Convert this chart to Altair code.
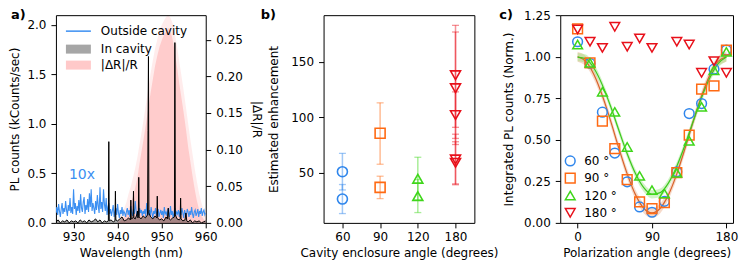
import altair as alt
import numpy as np
import pandas as pd

FONT = "DejaVu Sans"
BLUE = "#2f86ec"
ORANGE = "#ff6a13"
GREEN = "#3fd61a"
RED = "#e8101a"
LINE_BLUE = "#3b8ff2"

# ---------------- panel a data ----------------
outside_start, outside_step = 926.0, 0.2
outside_10x = [
    0.10, 0.16, 0.08, 0.19, 0.12, 0.06, 0.14, 0.20, 0.09, 0.15, 0.11, 0.22, 0.13, 0.07, 0.18, 0.12, 0.25, 0.10, 0.16, 0.09,
    0.34, 0.14, 0.20, 0.08, 0.17, 0.12, 0.23, 0.10, 0.29, 0.15, 0.11, 0.21, 0.26, 0.09, 0.18, 0.13, 0.24, 0.11, 0.30, 0.16,
    0.34, 0.12, 0.20, 0.15, 0.09, 0.22, 0.13, 0.28, 0.17, 0.10, 0.36, 0.14, 0.21, 0.11, 0.34, 0.19, 0.12, 0.25, 0.08, 0.16,
    0.20, 0.09, 0.14, 0.07, 0.12, 0.18, 0.06, 0.11, 0.15, 0.08, 0.19, 0.10, 0.05, 0.13, 0.09, 0.16, 0.07, 0.12, 0.10, 0.06,
    0.11, 0.15, 0.08, 0.13, 0.06, 0.17, 0.10, 0.07, 0.14, 0.09, 0.22, 0.12, 0.06, 0.11, 0.08, 0.15, 0.10, 0.13, 0.07, 0.12,
    0.09, 0.14, 0.06, 0.20, 0.11, 0.08, 0.13, 0.07, 0.16, 0.10, 0.05, 0.12, 0.09, 0.15, 0.07, 0.11, 0.14, 0.06, 0.10, 0.13,
    0.08, 0.12, 0.05, 0.16, 0.09, 0.11, 0.07, 0.14, 0.10, 0.06, 0.17, 0.08, 0.12, 0.05, 0.10, 0.15, 0.07, 0.11, 0.09, 0.13,
    0.06, 0.12, 0.08, 0.15, 0.10, 0.05, 0.13, 0.09, 0.07, 0.14, 0.11, 0.06, 0.12, 0.08, 0.16, 0.09, 0.05, 0.11, 0.13, 0.07,
    0.10, 0.14, 0.06, 0.12, 0.09, 0.15, 0.07, 0.11, 0.13, 0.08, 0.10,
]
in_wl = [
    926.0, 926.5, 927.0, 927.5, 928.0, 928.5, 929.0, 929.5, 930.0, 930.5, 931.0, 931.5, 932.0, 932.5,
    933.0, 933.5, 934.0, 934.5, 935.0, 935.5, 936.0, 936.5, 937.0, 937.5, 937.9, 938.0, 938.1, 938.5,
    939.0, 939.4, 939.5, 939.6, 940.0, 940.5, 941.0, 941.5, 942.0, 942.5, 942.9, 943.0, 943.1, 943.5,
    943.6, 943.7, 944.0, 944.4, 944.5, 944.6, 944.7, 944.8, 944.9, 945.3, 945.8, 946.3, 946.8, 946.9,
    947.0, 947.1, 947.5, 948.0, 948.5, 948.9, 949.0, 949.1, 949.5, 950.0, 950.5, 951.0, 951.3, 951.5,
    951.7, 952.0, 952.5, 952.9, 953.0, 953.1, 953.5, 954.0, 954.2, 954.3, 954.4, 954.8, 955.3, 955.5,
    955.7, 956.0, 956.5, 957.0, 957.5, 958.0, 958.5, 959.0, 959.5, 960.0,
]
in_counts = [
    0.01, 0.03, 0.00, 0.02, 0.01, 0.03, 0.00, 0.02, 0.01, 0.02, 0.00, 0.03, 0.01, 0.02,
    0.00, 0.03, 0.01, 0.02, 0.04, 0.01, 0.03, 0.00, 0.02, 0.01, 0.02, 0.82, 0.02, 0.03,
    0.01, 0.02, 0.32, 0.03, 0.02, 0.04, 0.06, 0.02, 0.03, 0.05, 0.03, 0.23, 0.04, 0.05,
    0.32, 0.05, 0.04, 0.09, 0.12, 0.05, 0.06, 0.46, 0.06, 0.04, 0.07, 0.05, 0.08, 0.93,
    1.68, 0.10, 0.06, 0.04, 0.07, 0.05, 0.27, 0.05, 0.03, 0.04, 0.02, 0.06, 0.04, 0.15,
    0.04, 0.03, 0.05, 0.06, 1.82, 0.08, 0.04, 0.03, 0.04, 0.25, 0.04, 0.02, 0.03, 0.10,
    0.02, 0.01, 0.03, 0.00, 0.02, 0.01, 0.02, 0.00, 0.01, 0.02,
]
dr_start, dr_step = 940.0, 0.5
dr_core = [
    0.000, 0.002, 0.005, 0.008, 0.012, 0.018, 0.027, 0.036, 0.048, 0.062, 0.082, 0.100, 0.118, 0.138,
    0.158, 0.178, 0.196, 0.214, 0.228, 0.240, 0.249, 0.256, 0.262, 0.266, 0.262, 0.250, 0.232, 0.212,
    0.190, 0.170, 0.150, 0.128, 0.104, 0.084, 0.064, 0.046, 0.030, 0.018, 0.010, 0.005, 0.002,
]
dr_fringe = [
    0.004, 0.008, 0.014, 0.020, 0.028, 0.040, 0.050, 0.062, 0.075, 0.090, 0.108, 0.126, 0.145, 0.165,
    0.185, 0.205, 0.222, 0.238, 0.250, 0.262, 0.270, 0.276, 0.281, 0.283, 0.280, 0.272, 0.258, 0.240,
    0.220, 0.200, 0.180, 0.158, 0.136, 0.114, 0.094, 0.074, 0.056, 0.040, 0.028, 0.018, 0.012,
]
legend_a = ["Outside cavity", "In cavity", "|ΔR|/R"]

# ---------------- panel b data ----------------
ANGLES = ["60", "90", "120", "180"]
b_angle = ["60", "60", "90", "90", "120", "120", "180", "180", "180", "180", "180"]
b_value = [51.0, 26.3, 85.6, 36.8, 44.6, 29.0, 138.0, 126.3, 102.0, 62.0, 59.0]
b_low = [34.5, 13.2, 57.7, 26.7, 25.2, 14.1, 91.0, 75.5, 81.0, 39.2, 40.0]
b_high = [67.5, 39.4, 113.1, 46.9, 64.0, 43.9, 183.0, 177.0, 123.0, 84.8, 78.0]

# ---------------- panel c data ----------------
c_angles = [0, 15, 30, 45, 60, 75, 90, 105, 120, 135, 150, 165, 180]
c_60 = [1.09, 0.96, 0.666, 0.42, 0.247, 0.096, 0.064, 0.13, 0.307, 0.658, 0.718, 0.925, 1.04]
c_90 = [1.168, 0.963, 0.612, 0.447, 0.26, 0.126, 0.086, 0.122, 0.303, 0.528, 0.805, 0.825, 1.039]
c_120 = [1.073, 0.963, 0.789, 0.668, 0.457, 0.283, 0.197, 0.177, 0.301, 0.494, 0.698, 0.919, 1.029]
c_180_angles = [0, 15, 30, 45, 60, 75, 90, 120, 135, 150, 165, 180]
c_180 = [1.164, 1.09, 1.053, 1.18, 1.06, 1.11, 1.053, 1.09, 1.073, 0.903, 0.973, 0.903]

fit_angles = [0, 10, 20, 30, 40, 50, 60, 70, 80, 90, 100, 110, 120, 130, 140, 150, 160, 170, 180]
fit_orange = [1.00, 0.972, 0.89, 0.765, 0.612, 0.448, 0.295, 0.17, 0.088, 0.06,
              0.088, 0.17, 0.295, 0.448, 0.612, 0.765, 0.89, 0.972, 1.00]
fit_green = [0.998, 0.988, 0.929, 0.829, 0.70, 0.556, 0.416, 0.297, 0.212, 0.172,
             0.182, 0.241, 0.341, 0.47, 0.614, 0.754, 0.873, 0.958, 0.998]
band_orange_half = 0.03
band_green_half = 0.025

# ---------------- frames ----------------
df_out = pd.DataFrame({"wl": np.round(outside_start + outside_step * np.arange(len(outside_10x)), 2),
                       "pl": outside_10x})
df_in = pd.DataFrame({"wl": in_wl, "pl": in_counts})
df_dr = pd.DataFrame({"wl": np.round(dr_start + dr_step * np.arange(len(dr_core)), 2),
                      "core": dr_core, "fringe": dr_fringe})

H = 208
WA, WB, WC = 150, 151, 173

xa = alt.X("wl:Q", scale=alt.Scale(domain=[926, 960], nice=False, zero=False),
           axis=alt.Axis(values=[930, 940, 950, 960], title="Wavelength (nm)"))
y_left = alt.Scale(domain=[0, 2.097], nice=False)
ax_left = alt.Axis(orient="left", values=[0, 0.5, 1.0, 1.5, 2.0], format=".1f",
                   title="PL counts (kCounts/sec)", titlePadding=5)
y_right = alt.Scale(domain=[0, 0.2835], nice=False)
ax_right = alt.Axis(orient="right", values=[0, 0.05, 0.10, 0.15, 0.20, 0.25], format=".2f",
                    title="|ΔR|/R", titleAngle=90, titlePadding=7)

pink_fringe = alt.Chart(df_dr).mark_area(color="#ff3030", opacity=0.09, clip=True).encode(
    x=xa, y=alt.Y("fringe:Q", scale=y_right, axis=ax_right))
pink_core = alt.Chart(df_dr).mark_area(color="#ff3030", opacity=0.17, clip=True).encode(
    x=xa, y=alt.Y("core:Q", scale=y_right, axis=ax_right))
right_layer = alt.layer(pink_fringe, pink_core)

blue_line = alt.Chart(df_out).mark_line(color=LINE_BLUE, strokeWidth=1.1, clip=True).encode(
    x=xa, y=alt.Y("pl:Q", scale=y_left, axis=ax_left))
black_area = alt.Chart(df_in).mark_area(color="black", opacity=0.35, clip=True).encode(
    x=xa, y=alt.Y("pl:Q", scale=y_left, axis=ax_left))
black_line = alt.Chart(df_in).mark_line(color="black", strokeWidth=1, clip=True).encode(
    x=xa, y=alt.Y("pl:Q", scale=y_left, axis=ax_left))


def txt(s, x, y, size=12, color="black", weight="normal", baseline="middle"):
    return alt.Chart(pd.DataFrame({"t": [s]})).mark_text(
        font=FONT, fontSize=size, color=color, fontWeight=weight, align="left", baseline=baseline
    ).encode(text="t:N", x=alt.value(x), y=alt.value(y))


one = pd.DataFrame({"k": [0]})
leg_line = alt.Chart(one).mark_rule(color=LINE_BLUE, strokeWidth=1.5).encode(
    x=alt.value(10), x2=alt.value(35), y=alt.value(16))
leg_gray = alt.Chart(one).mark_rect(color="black", opacity=0.35).encode(
    x=alt.value(10), x2=alt.value(35), y=alt.value(29.5), y2=alt.value(38.5))
leg_pink = alt.Chart(one).mark_rect(color="#ffc9c9").encode(
    x=alt.value(10), x2=alt.value(35), y=alt.value(45.5), y2=alt.value(54.5))

left_layer = alt.layer(
    blue_line, black_area, black_line,
    leg_line, leg_gray, leg_pink,
    txt(legend_a[0], 45, 16), txt(legend_a[1], 45, 34), txt(legend_a[2], 45, 50),
    txt("10x", 13, 160, size=14, color=LINE_BLUE),
    txt("a)", -45, -6, size=13, weight="bold", baseline="top"),
)
panel_a = alt.layer(right_layer, left_layer).resolve_scale(y="independent").properties(width=WA, height=H)

# ---------------- panel b ----------------
df_b = pd.DataFrame({"angle": b_angle, "value": b_value, "low": b_low, "high": b_high})
xb = alt.X("angle:O", sort=ANGLES, scale=alt.Scale(type="point", domain=ANGLES, padding=0.5),
           axis=alt.Axis(labelAngle=0, title="Cavity enclosure angle (degrees)"))
yb_scale = alt.Scale(domain=[4.8, 192.2], nice=False, zero=False)
yb_axis = alt.Axis(values=[50, 100, 150], title="Estimated enhancement", titlePadding=10)
col_b = alt.Color("angle:N", scale=alt.Scale(domain=ANGLES, range=[BLUE, ORANGE, GREEN, RED]), legend=None)
shape_b = alt.Shape("angle:N", scale=alt.Scale(domain=ANGLES,
                    range=["circle", "square", "triangle-up", "triangle-down"]), legend=None)

err_b = alt.Chart(df_b).mark_rule(strokeWidth=1.5, opacity=0.45).encode(
    x=xb, y=alt.Y("low:Q", scale=yb_scale, axis=yb_axis), y2="high:Q", color=col_b)
cap_lo = alt.Chart(df_b).mark_tick(size=7, thickness=1.3, opacity=0.45).encode(
    x=xb, y=alt.Y("low:Q", scale=yb_scale, axis=yb_axis), color=col_b)
cap_hi = alt.Chart(df_b).mark_tick(size=7, thickness=1.3, opacity=0.45).encode(
    x=xb, y=alt.Y("high:Q", scale=yb_scale, axis=yb_axis), color=col_b)
pts_b = alt.Chart(df_b).mark_point(filled=False, size=100, strokeWidth=1.6, opacity=1).encode(
    x=xb, y=alt.Y("value:Q", scale=yb_scale, axis=yb_axis), color=col_b, shape=shape_b)
panel_b = alt.layer(err_b, cap_lo, cap_hi, pts_b,
                    txt("b)", -63, -6, size=13, weight="bold", baseline="top")).properties(width=WB, height=H)

# ---------------- panel c ----------------
rows = []
for name, angs, vals in [("60", c_angles, c_60), ("90", c_angles, c_90),
                         ("120", c_angles, c_120), ("180", c_180_angles, c_180)]:
    for a, v in zip(angs, vals):
        rows.append({"series": name, "angle": a, "value": v})
df_c = pd.DataFrame(rows)
df_fit = pd.DataFrame({"angle": fit_angles, "orange": fit_orange, "green": fit_green})
df_fit["o_lo"] = df_fit["orange"] - band_orange_half
df_fit["o_hi"] = df_fit["orange"] + band_orange_half
df_fit["g_lo"] = df_fit["green"] - band_green_half
df_fit["g_hi"] = df_fit["green"] + band_green_half

xc = alt.X("angle:Q", scale=alt.Scale(domain=[-21, 188], nice=False, zero=False),
           axis=alt.Axis(values=[0, 90, 180], title="Polarization angle (degrees)"))
yc_scale = alt.Scale(domain=[0, 1.25], nice=False)
yc_axis = alt.Axis(values=[0, 0.25, 0.5, 0.75, 1.0, 1.25], format=".2f",
                   title="Integrated PL counts (Norm.)", titlePadding=8)

leg_c = alt.Legend(title=None, orient="none", legendX=4, legendY=140, padding=0,
                   symbolSize=95, symbolStrokeWidth=1.5, labelFont=FONT, labelFontSize=12,
                   labelColor="black", rowPadding=1.3, labelOffset=8,
                   labelExpr="datum.label + ' °'")
col_c = alt.Color("series:N", sort=ANGLES, scale=alt.Scale(domain=ANGLES, range=[BLUE, ORANGE, GREEN, RED]),
                  legend=leg_c)
shape_c = alt.Shape("series:N", sort=ANGLES, scale=alt.Scale(domain=ANGLES,
                    range=["circle", "square", "triangle-up", "triangle-down"]), legend=leg_c)

band_o = alt.Chart(df_fit).mark_area(color="#e8a27a", opacity=0.4, interpolate="monotone").encode(
    x=xc, y=alt.Y("o_lo:Q", scale=yc_scale, axis=yc_axis), y2="o_hi:Q")
band_g = alt.Chart(df_fit).mark_area(color="#8fe070", opacity=0.4, interpolate="monotone").encode(
    x=xc, y=alt.Y("g_lo:Q", scale=yc_scale, axis=yc_axis), y2="g_hi:Q")
line_o = alt.Chart(df_fit).mark_line(color="#d8632a", strokeWidth=1.2, interpolate="monotone").encode(
    x=xc, y=alt.Y("orange:Q", scale=yc_scale, axis=yc_axis))
line_g = alt.Chart(df_fit).mark_line(color="#3cc81e", strokeWidth=1.2, interpolate="monotone").encode(
    x=xc, y=alt.Y("green:Q", scale=yc_scale, axis=yc_axis))
pts_c = alt.Chart(df_c).mark_point(filled=False, size=95, strokeWidth=1.5, opacity=1).encode(
    x=xc, y=alt.Y("value:Q", scale=yc_scale, axis=yc_axis), color=col_c, shape=shape_c)
panel_c = alt.layer(band_o, band_g, line_o, line_g, pts_c,
                    txt("c)", -61, -6, size=13, weight="bold", baseline="top")).properties(width=WC, height=H)


def spacer(w):
    return alt.Chart(one).mark_point(opacity=0).properties(
        width=w, height=H, view=alt.ViewBackground(stroke="transparent"))


chart = alt.hconcat(panel_a, spacer(118), panel_b, spacer(86), panel_c, spacing=0, bounds="flush")
chart = chart.resolve_scale(color="independent", shape="independent").properties(padding=0)
chart = chart.configure(font=FONT).configure_view(stroke="black", strokeWidth=1).configure_axis(
    labelFont=FONT, titleFont=FONT, labelFontSize=12, titleFontSize=12, labelColor="black",
    titleColor="black", tickColor="black", tickSize=5, tickWidth=1, domain=False, grid=False,
    titleFontWeight="normal", labelFlush=False, labelOverlap=False
).configure_axisX(labelPadding=4, titlePadding=5).configure_axisY(labelPadding=5)

chart.save("out.html", embed_options={"renderer": "svg", "actions": False})
